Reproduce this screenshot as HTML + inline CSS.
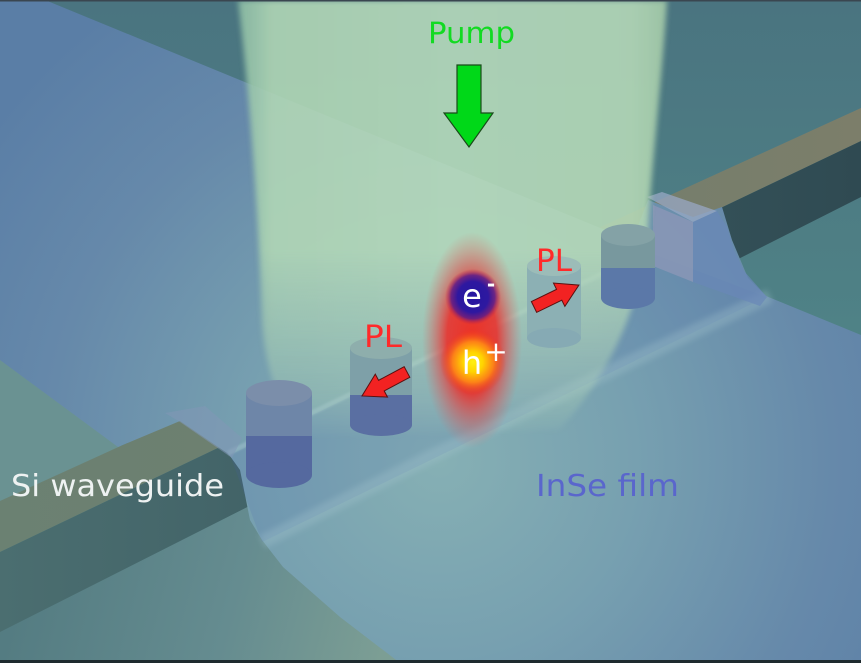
<!DOCTYPE html>
<html><head><meta charset="utf-8"><style>
html,body{margin:0;padding:0;background:#000;}
svg{display:block;}
</style></head><body>
<svg width="861" height="663" viewBox="0 0 861 663" xmlns="http://www.w3.org/2000/svg">
<defs>
  <linearGradient id="bg" x1="0" y1="0" x2="0" y2="663" gradientUnits="userSpaceOnUse">
    <stop offset="0" stop-color="#4a7480"/>
    <stop offset="0.5" stop-color="#4f8286"/>
    <stop offset="1" stop-color="#5a8a88"/>
  </linearGradient>
  <linearGradient id="sub" x1="0" y1="560" x2="380" y2="663" gradientUnits="userSpaceOnUse">
    <stop offset="0" stop-color="#527a80"/>
    <stop offset="0.6" stop-color="#658c90"/>
    <stop offset="1" stop-color="#7c9e94"/>
  </linearGradient>
  <linearGradient id="wgTop" x1="0" y1="0" x2="861" y2="0" gradientUnits="userSpaceOnUse">
    <stop offset="0" stop-color="#6b8172"/>
    <stop offset="0.5" stop-color="#6f7e6e"/>
    <stop offset="1" stop-color="#7c7e6a"/>
  </linearGradient>
  <linearGradient id="wgSide" x1="0" y1="0" x2="861" y2="0" gradientUnits="userSpaceOnUse">
    <stop offset="0" stop-color="#4b6e70"/>
    <stop offset="0.5" stop-color="#3c5c62"/>
    <stop offset="1" stop-color="#2f4a52"/>
  </linearGradient>
  <radialGradient id="film" cx="440" cy="460" r="560" gradientUnits="userSpaceOnUse">
    <stop offset="0" stop-color="#86b0b4"/>
    <stop offset="0.35" stop-color="#77a0b0"/>
    <stop offset="0.7" stop-color="#6689aa"/>
    <stop offset="1" stop-color="#5a7ea6"/>
  </radialGradient>
  <linearGradient id="beamFill" x1="238" y1="0" x2="667" y2="0" gradientUnits="userSpaceOnUse">
    <stop offset="0" stop-color="#8ebea4"/>
    <stop offset="0.08" stop-color="#b2d8b6"/>
    <stop offset="0.5" stop-color="#b8dcbc"/>
    <stop offset="0.92" stop-color="#b6dab8"/>
    <stop offset="1" stop-color="#a6cca8"/>
  </linearGradient>
  <linearGradient id="beamMaskG" x1="0" y1="0" x2="0" y2="663" gradientUnits="userSpaceOnUse">
    <stop offset="0" stop-color="#eeeeee"/>
    <stop offset="0.377" stop-color="#eeeeee"/>
    <stop offset="0.498" stop-color="#9e9e9e"/>
    <stop offset="0.603" stop-color="#4d4d4d"/>
    <stop offset="0.664" stop-color="#000000"/>
  </linearGradient>
  <mask id="beamMask" maskUnits="userSpaceOnUse" x="0" y="0" width="861" height="663">
    <rect x="0" y="0" width="861" height="663" fill="url(#beamMaskG)"/>
  </mask>
  <filter id="soft" x="-10%" y="-10%" width="120%" height="120%">
    <feGaussianBlur stdDeviation="3"/>
  </filter>
  <filter id="soft1" x="-10%" y="-10%" width="120%" height="120%">
    <feGaussianBlur stdDeviation="1"/>
  </filter>
  <radialGradient id="glow" cx="0.5" cy="0.5" r="0.5">
    <stop offset="0" stop-color="#f02a1e" stop-opacity="0.95"/>
    <stop offset="0.5" stop-color="#ea2e2a" stop-opacity="0.88"/>
    <stop offset="0.75" stop-color="#e04848" stop-opacity="0.45"/>
    <stop offset="1" stop-color="#dc6060" stop-opacity="0"/>
  </radialGradient>
  <radialGradient id="eball" cx="0.5" cy="0.5" r="0.5">
    <stop offset="0" stop-color="#2616a0"/>
    <stop offset="0.55" stop-color="#2e18a0"/>
    <stop offset="0.78" stop-color="#5a1a8a" stop-opacity="0.85"/>
    <stop offset="1" stop-color="#c82040" stop-opacity="0"/>
  </radialGradient>
  <radialGradient id="hball" cx="0.5" cy="0.5" r="0.5">
    <stop offset="0" stop-color="#fff010"/>
    <stop offset="0.3" stop-color="#ffd400"/>
    <stop offset="0.62" stop-color="#ff8a14" stop-opacity="0.9"/>
    <stop offset="1" stop-color="#f0301e" stop-opacity="0"/>
  </radialGradient>
</defs>

<!-- background substrate -->
<rect x="0" y="0" width="861" height="663" fill="url(#bg)"/>
<!-- near-side substrate bottom-left -->
<polygon points="0,630 420,415 420,663 0,663" fill="url(#sub)"/>
<!-- far-side substrate triangle left -->
<polygon points="0,355 140,460 0,505" fill="#6a9292"/>

<!-- waveguide -->
<polygon points="0,501 861,108 861,141 0,552" fill="url(#wgTop)"/>
<polygon points="0,552 861,141 861,197 0,632" fill="url(#wgSide)"/>

<!-- InSe film -->
<polygon points="0,0 45,0 632,241 648,200 693,217 722,207 732,240 748,278 766,296 861,335 861,663 400,663 340,617 283,567 262,540 250,520 240,470 230,456 227,453 180,421 118,447 0,360" fill="url(#film)"/>

<!-- film side strip tint & bend highlights -->
<polygon points="230,455 648,252 766,297 262,542" fill="#4a64b0" opacity="0.14"/>
<line x1="228" y1="453" x2="648" y2="252" stroke="#b4d0dc" stroke-width="5" opacity="0.35" filter="url(#soft1)"/>
<polyline points="262,542 430,457 697,330 770,296" fill="none" stroke="#a6c6d0" stroke-width="14" opacity="0.3" filter="url(#soft)"/>

<!-- left film end on waveguide -->
<polygon points="165,413 205,406 242,438 232,458 180,422" fill="#8298b6" opacity="0.55"/>
<!-- right film end box -->
<polygon points="647,197 662,192 717,211 693,222" fill="#98a8c4" opacity="0.75"/>
<polygon points="653,205 693,222 693,282 653,266" fill="#8a96b6" opacity="0.85"/>
<polygon points="693,222 717,211 727,227 734,250 744,271 767,297 760,306 693,282" fill="#6a88b8" opacity="0.7"/>

<!-- pump beam -->
<g mask="url(#beamMask)">
  <path d="M238,0 L667,0 C662,80 652,160 648,230 C640,300 620,360 560,430 L300,440 C275,400 264,360 262,320 C259,220 250,100 238,0 Z" fill="url(#beamFill)" opacity="0.95" filter="url(#soft)"/>
</g>

<!-- cylinders -->
<g>
  <rect x="246" y="393" width="66" height="43" fill="#6e86a8"/>
  <rect x="246" y="436" width="66" height="39" fill="#55699f"/>
  <ellipse cx="279" cy="475" rx="33" ry="13" fill="#55699f"/>
  <ellipse cx="279" cy="393" rx="33" ry="13" fill="#7b8eaa"/>
</g>
<g>
  <rect x="350" y="348" width="62" height="47" fill="#7ea0a8"/>
  <rect x="350" y="395" width="62" height="30" fill="#5a6fa2"/>
  <ellipse cx="381" cy="425" rx="31" ry="11" fill="#5a6fa2"/>
  <ellipse cx="381" cy="348" rx="31" ry="11" fill="#8eaeac"/>
</g>
<g>
  <rect x="527" y="266" width="54" height="72" fill="#8cb0b4"/>
  <ellipse cx="554" cy="338" rx="27" ry="10" fill="#86aab4"/>
  <ellipse cx="554" cy="266" rx="27" ry="10" fill="#9cbcb8"/>
</g>
<g>
  <rect x="601" y="235" width="54" height="33" fill="#78989e"/>
  <rect x="601" y="268" width="54" height="30" fill="#5b78a8"/>
  <ellipse cx="628" cy="298" rx="27" ry="11" fill="#5b78a8"/>
  <ellipse cx="628" cy="235" rx="27" ry="11" fill="#84a2a6"/>
</g>

<!-- exciton glow -->
<ellipse cx="472" cy="340" rx="50" ry="108" fill="url(#glow)"/>
<circle cx="473" cy="297" r="28" fill="url(#eball)"/>
<circle cx="473" cy="362" r="33" fill="url(#hball)"/>
<text x="472" y="307" font-family="DejaVu Sans, Liberation Sans, sans-serif" font-size="32" fill="#ffffff" text-anchor="middle">e</text>
<text x="491" y="291" font-family="DejaVu Sans, Liberation Sans, sans-serif" font-size="20" font-weight="bold" fill="#ffffff" text-anchor="middle">-</text>
<text x="472" y="374" font-family="DejaVu Sans, Liberation Sans, sans-serif" font-size="32" fill="#ffffff" text-anchor="middle">h</text>
<text x="496" y="361" font-family="DejaVu Sans, Liberation Sans, sans-serif" font-size="28" fill="#ffffff" text-anchor="middle">+</text>

<!-- red PL arrows -->
<polygon points="0,-6 29,-6 29,-13 51,0 29,13 29,6 0,6" fill="#f22222" stroke="#5a1010" stroke-width="1" transform="translate(407,372) rotate(152)"/>
<polygon points="0,-6 28,-6 28,-13 50,0 28,13 28,6 0,6" fill="#f22222" stroke="#5a1010" stroke-width="1" transform="translate(534,307) rotate(-26)"/>

<!-- green pump arrow -->
<polygon points="457,65 481,65 481,113 493,113 469,147 444,113 457,113" fill="#00d818" stroke="#1a4a1a" stroke-width="1.2"/>

<!-- labels -->
<text x="428" y="43" font-family="DejaVu Sans, Liberation Sans, sans-serif" font-size="29" fill="#12da22" textLength="87" lengthAdjust="spacingAndGlyphs">Pump</text>
<text x="364" y="347" font-family="DejaVu Sans, Liberation Sans, sans-serif" font-size="30" fill="#ff2a2a" textLength="38" lengthAdjust="spacingAndGlyphs">PL</text>
<text x="536" y="271" font-family="DejaVu Sans, Liberation Sans, sans-serif" font-size="30" fill="#ff2a2a" textLength="36" lengthAdjust="spacingAndGlyphs">PL</text>
<text x="11" y="496" font-family="DejaVu Sans, Liberation Sans, sans-serif" font-size="30" fill="#eef2f2" textLength="213" lengthAdjust="spacingAndGlyphs">Si waveguide</text>
<text x="536" y="496" font-family="DejaVu Sans, Liberation Sans, sans-serif" font-size="30" fill="#5a66cc" textLength="143" lengthAdjust="spacingAndGlyphs">InSe film</text>

<!-- borders -->
<rect x="0" y="0" width="861" height="1.5" fill="#3a4650"/>
<rect x="0" y="660" width="861" height="3" fill="#1e2a2e"/>
</svg>
</body></html>
